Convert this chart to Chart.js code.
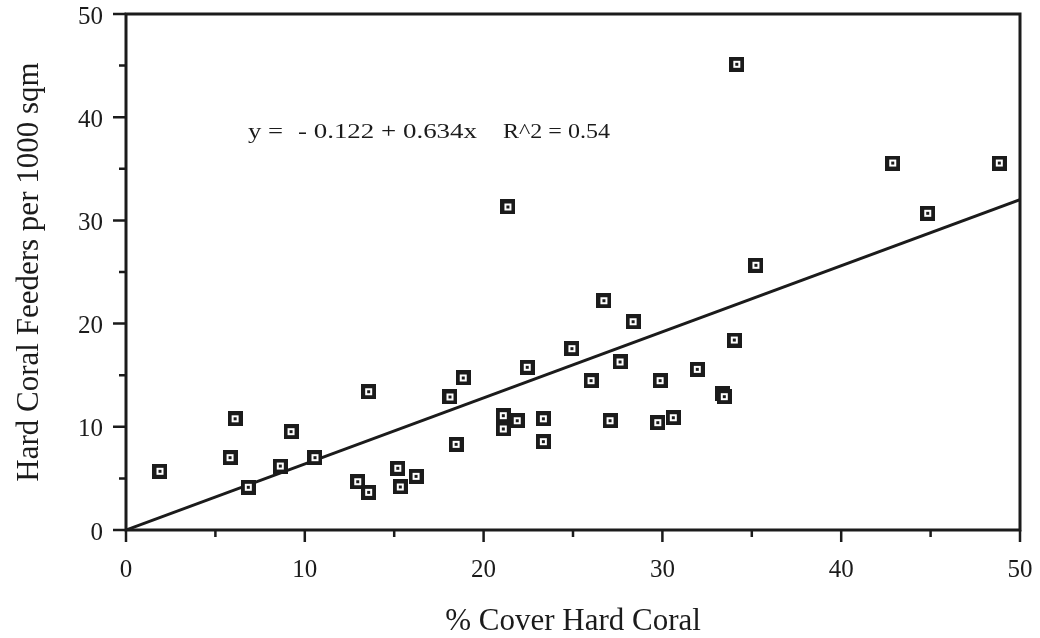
<!DOCTYPE html>
<html>
<head>
<meta charset="utf-8">
<script src="https://cdn.jsdelivr.net/npm/chart.js@4.4.1/dist/chart.umd.min.js"></script>
<style>
  html, body { margin: 0; padding: 0; background: #ffffff; }
  #wrap { width: 1040px; height: 638px; }
</style>
</head>
<body>
<div id="wrap"><canvas id="c" width="1040" height="638"></canvas></div>
<script>
// ---- Data ----
const coverHardCoral = [1.90, 5.82, 6.10, 6.84, 8.63, 9.23, 10.57, 12.96, 13.57, 13.57,
  15.20, 15.34, 16.22, 18.12, 18.46, 18.86, 21.10, 21.10, 21.88, 21.36,
  22.44, 23.34, 23.34, 24.94, 26.01, 26.73, 27.07, 27.63, 28.36, 29.74,
  29.87, 30.61, 31.95, 33.37, 33.46, 34.02, 34.16, 35.23, 42.88, 44.84, 48.84];
const feedersPer1000 = [5.69, 7.01, 10.78, 4.14, 6.20, 9.53, 7.01, 4.68, 3.65, 13.40,
  5.98, 4.17, 5.20, 12.89, 8.30, 14.73, 11.08, 9.79, 10.59, 31.30,
  15.77, 10.78, 8.56, 17.57, 14.47, 22.22, 10.59, 16.28, 20.18, 10.40,
  14.47, 10.88, 15.57, 13.25, 12.92, 18.41, 45.13, 25.65, 35.56, 30.69, 35.56];
const fitLineX = [0, 50];
const fitLineY = [0.0, 32.0];
const xTickValues = [0, 10, 20, 30, 40, 50];
const yTickValues = [0, 10, 20, 30, 40, 50];
const equationParts = ['y =', '- 0.122 + 0.634x', 'R^2 = 0.54'];
const xTitle = '% Cover Hard Coral';
const yTitle = 'Hard Coral Feeders per 1000 sqm';

const INK = '#1b1b1b';
const SERIF = '"Liberation Serif", "DejaVu Serif", serif';

// equation text layout: [start x (data units), end x (data units)] per part, baseline y (data units)
const eqSpans = [[6.82, 8.78], [9.62, 19.63], [21.08, 27.07]];
const eqBaseline = 38.0;

// marker: black square with white inner square and black centre dot
function makeMarker() {
  const m = document.createElement('canvas');
  m.width = 15; m.height = 15;
  const g = m.getContext('2d');
  g.fillStyle = INK; g.fillRect(0, 0, 15, 15);
  g.fillStyle = '#ffffff'; g.fillRect(4, 4, 7, 7);
  g.fillStyle = INK; g.fillRect(6, 6, 3, 3);
  return m;
}
const marker = makeMarker();

const points = coverHardCoral.map((x, i) => ({ x: x, y: feedersPer1000[i] }));
const fitPoints = fitLineX.map((x, i) => ({ x: x, y: fitLineY[i] }));

const frameAndTicks = {
  id: 'frameAndTicks',
  afterDatasetsDraw(chart) {
    const { ctx, chartArea: a, scales: { x, y } } = chart;
    ctx.save();
    ctx.strokeStyle = INK;
    ctx.lineWidth = 3;
    ctx.lineCap = 'butt';
    // box
    ctx.beginPath();
    ctx.moveTo(a.left, a.top); ctx.lineTo(a.right, a.top);
    ctx.moveTo(a.right, a.top - 1.5); ctx.lineTo(a.right, a.bottom + 1.5);
    ctx.moveTo(a.left - 1.5, a.bottom); ctx.lineTo(a.right + 1.5, a.bottom);
    ctx.moveTo(a.left, a.top - 1.5); ctx.lineTo(a.left, a.bottom + 1.5);
    ctx.stroke();
    // ticks: major every 10 (long), minor every 5 (short)
    ctx.lineWidth = 2.5;
    ctx.beginPath();
    for (let v = 0; v <= 50; v += 5) {
      const major = v % 10 === 0;
      const px = x.getPixelForValue(v);
      ctx.moveTo(px, a.bottom); ctx.lineTo(px, a.bottom + (major ? 12 : 7));
      const py = y.getPixelForValue(v);
      ctx.moveTo(a.left, py); ctx.lineTo(a.left - (major ? 13 : 7), py);
    }
    ctx.stroke();
    // regression equation (reference face is wider than Liberation Serif: stretch each part to its span)
    ctx.fillStyle = INK;
    ctx.font = '20px ' + SERIF;
    ctx.textBaseline = 'alphabetic';
    ctx.textAlign = 'left';
    const by = y.getPixelForValue(eqBaseline);
    equationParts.forEach((t, i) => {
      const x0 = x.getPixelForValue(eqSpans[i][0]);
      const x1 = x.getPixelForValue(eqSpans[i][1]);
      const w = ctx.measureText(t).width;
      ctx.save();
      ctx.translate(x0, by);
      ctx.scale((x1 - x0) / w, 1);
      ctx.fillText(t, 0, 0);
      ctx.restore();
    });
    ctx.restore();
  }
};

new Chart(document.getElementById('c'), {
  type: 'scatter',
  data: {
    datasets: [
      {
        type: 'line',
        data: fitPoints,
        borderColor: INK,
        borderWidth: 3,
        pointRadius: 0,
        fill: false,
        order: 2
      },
      {
        type: 'scatter',
        data: points,
        pointStyle: marker,
        pointRadius: 7,
        order: 1
      }
    ]
  },
  options: {
    responsive: false,
    animation: false,
    devicePixelRatio: 1,
    layout: { padding: { top: 14, right: 20, left: 0, bottom: 0 } },
    plugins: { legend: { display: false }, tooltip: { enabled: false } },
    scales: {
      x: {
        type: 'linear', min: 0, max: 50,
        grid: { display: false, drawTicks: false },
        border: { display: false },
        afterBuildTicks: s => { s.ticks = xTickValues.map(v => ({ value: v })); },
        afterFit: s => { s.height = 108; s.paddingLeft = 0; s.paddingRight = 0; },
        ticks: { color: INK, font: { family: SERIF, size: 25 }, padding: 25, maxRotation: 0, autoSkip: false },
        title: { display: true, text: xTitle, color: INK, font: { family: SERIF, size: 31, lineHeight: 1 }, padding: { top: 0, bottom: 1 } }
      },
      y: {
        type: 'linear', min: 0, max: 50,
        grid: { display: false, drawTicks: false },
        border: { display: false },
        afterBuildTicks: s => { s.ticks = yTickValues.map(v => ({ value: v })); },
        afterFit: s => { s.width = 126; s.paddingTop = 0; s.paddingBottom = 0; },
        ticks: { color: INK, font: { family: SERIF, size: 25 }, padding: 23, labelOffset: 3, autoSkip: false },
        title: { display: true, text: yTitle, color: INK, font: { family: SERIF, size: 31, lineHeight: 1 }, padding: { top: 14, bottom: 0 } }
      }
    }
  },
  plugins: [frameAndTicks]
});
</script>
</body>
</html>
